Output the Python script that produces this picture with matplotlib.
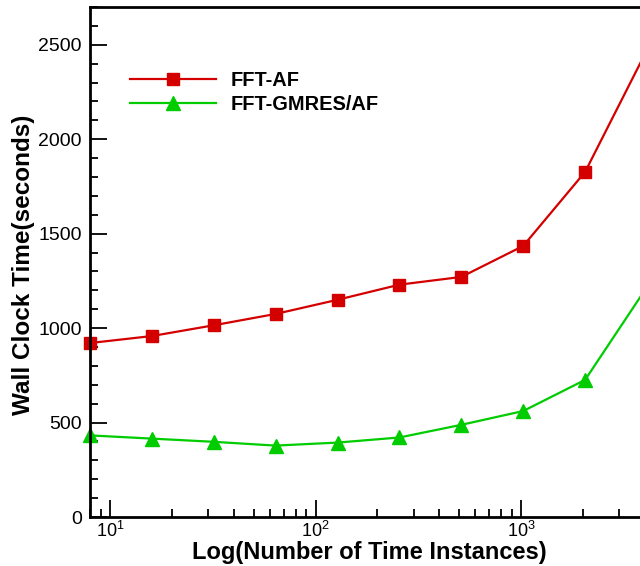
import matplotlib
matplotlib.use("Agg")
import matplotlib.pyplot as plt
from matplotlib.ticker import MultipleLocator, LogLocator, NullFormatter

plt.rcParams['font.family'] = ['Liberation Sans', 'DejaVu Sans']
plt.rcParams['mathtext.fontset'] = 'custom'
plt.rcParams['mathtext.rm'] = 'Liberation Sans'

# number of time instances and wall clock times
instances = [8, 16, 32, 64, 128, 256, 512, 1024, 2048, 4096]
fft_af = [921, 958, 1015, 1075, 1150, 1230, 1271, 1435, 1827, 2473]
fft_gmres_af = [432, 415, 398, 378, 394, 421, 488, 561, 726, 1218]

fig = plt.figure(figsize=(6.4, 5.66), dpi=100)
# axes runs past the right edge of the figure
ax = fig.add_axes([90/640, 49/566, 557/640, 510/566])

ax.plot(instances, fft_af, color='#d40000', lw=1.6, marker='s', ms=9,
        label='FFT-AF', clip_on=False)
ax.plot(instances, fft_gmres_af, color='#00cc00', lw=1.6, marker='^', ms=10.5,
        label='FFT-GMRES/AF', clip_on=False)

ax.set_xscale('log')
ax.set_xlim(8, 4096)
ax.set_ylim(0, 2700)
ax.yaxis.set_major_locator(MultipleLocator(500))
ax.yaxis.set_minor_locator(MultipleLocator(100))
ax.xaxis.set_minor_locator(LogLocator(base=10, subs=range(2, 10)))
ax.xaxis.set_minor_formatter(NullFormatter())

ax.tick_params(which='both', direction='in', top=False, right=False, width=1.3)
ax.tick_params(which='major', length=12)
ax.tick_params(which='minor', length=6)
ax.tick_params(axis='y', labelsize=14, pad=6)
ax.tick_params(axis='x', labelsize=13, pad=3)
for s in ax.spines.values():
    s.set_linewidth(2)

ax.set_xlabel('Log(Number of Time Instances)', fontsize=17, fontweight='bold')
ax.set_ylabel('Wall Clock Time(seconds)', fontsize=17.5, fontweight='bold')
ax.xaxis.set_label_coords(0.502, -0.047)
ax.yaxis.set_label_coords(-0.098, 0.494)

leg = ax.legend(loc='upper left', bbox_to_anchor=(0.04, 0.909), frameon=False,
                prop={'size': 14.4, 'weight': 'bold'}, handlelength=4.3,
                labelspacing=0.25, handletextpad=0.7)

fig.savefig('out.png', dpi=100)
